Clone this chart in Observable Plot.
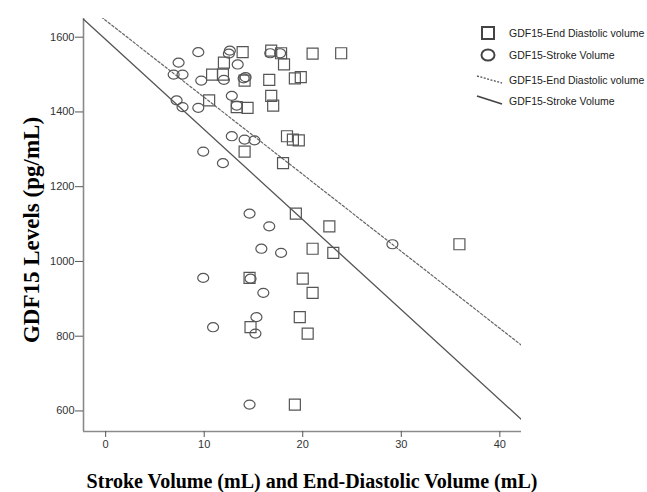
<!DOCTYPE html>
<html><head><meta charset="utf-8">
<script src="https://cdn.jsdelivr.net/npm/d3@7"></script>
<script src="https://cdn.jsdelivr.net/npm/@observablehq/plot@0.6"></script>
<style>
body{margin:0;background:#fff;}
#wrap{position:relative;width:647px;height:492px;overflow:hidden;}
#wrap svg{position:absolute;left:0;top:0;}
.title{position:absolute;font-family:"Liberation Serif",serif;font-weight:bold;font-size:20px;color:#000;white-space:nowrap;}
</style></head><body><div id="wrap"></div>
<script>
// GDF15 level (pg/mL) for each patient
const gdf15 = [1564,1560,1557,1557,1556,1532,1527,1500,1500,1493,1490,1486,1484,1443,1431,1417,1413,1411,1335,1326,1324,1294,1263,1128,1094,1046,1034,1023,956,954,916,851,824,807,617];
// Stroke volume (mL) – circles
const strokeVolume = [12.6,9.4,16.7,17.7,12.5,7.4,13.4,6.9,7.8,14.2,14.0,12.0,9.7,12.8,7.2,13.3,7.8,9.4,12.8,14.1,15.1,9.9,11.9,14.6,16.6,29.1,15.8,17.8,9.9,14.7,16.0,15.3,10.9,15.2,14.6];
// End-diastolic volume (mL) – squares
const endDiastolicVolume = [16.8,13.9,17.8,23.9,21.0,12.0,18.1,10.8,11.9,19.8,19.2,16.6,14.1,16.8,10.5,17.0,13.3,14.4,18.4,19.0,19.6,14.1,18.0,19.3,22.7,35.9,21.0,23.1,14.6,20.0,21.0,19.7,14.7,20.5,19.2];
// Fit lines
const fitSV = {intercept: 1594, slope: -24.1};
const fitEDV = {intercept: 1645, slope: -20.6};
const xTicks = [0,10,20,30,40];
const yTicks = [600,800,1000,1200,1400,1600];
const xDomain = [-2.25, 42.2];
const yDomain = [545, 1650];
const legendLabels = ["GDF15-End Diastolic volume","GDF15-Stroke Volume","GDF15-End Diastolic volume","GDF15-Stroke Volume"];
const xTitle = "Stroke Volume (mL) and End-Diastolic Volume (mL)";
const yTitle = "GDF15 Levels (pg/mL)";

const rows = gdf15.map((g,i)=>({g, sv: strokeVolume[i], edv: endDiastolicVolume[i]}));
const fitLine = f => xDomain.map(x => ({x, y: f.intercept + f.slope*x}));

const squareSym = {draw(ctx, size){ const r=Math.sqrt(size/Math.PI); ctx.moveTo(-r,-r); ctx.lineTo(r,-r); ctx.lineTo(r,r); ctx.lineTo(-r,r); ctx.closePath(); }};
const ellipseSym = {draw(ctx, size){ const r=Math.sqrt(size/Math.PI); const rx=r, ry=r*0.82, k=0.5523;
  ctx.moveTo(rx,0); ctx.bezierCurveTo(rx,ry*k,rx*k,ry,0,ry); ctx.bezierCurveTo(-rx*k,ry,-rx,ry*k,-rx,0);
  ctx.bezierCurveTo(-rx,-ry*k,-rx*k,-ry,0,-ry); ctx.bezierCurveTo(rx*k,-ry,rx,-ry*k,rx,0); ctx.closePath(); }};

const chart = Plot.plot({
  width: 647, height: 492,
  marginLeft: 83, marginRight: 126, marginTop: 18, marginBottom: 61,
  x: {domain: xDomain},
  y: {domain: yDomain},
  style: {fontFamily: "Liberation Sans, sans-serif", fontSize: "11px", color: "#333", background: "transparent"},
  marks: [
    Plot.ruleX([xDomain[0]], {stroke: "#8a8a8a", strokeWidth: 1.6}),
    Plot.ruleY([yDomain[0]], {stroke: "#8a8a8a", strokeWidth: 1.6}),
    Plot.axisX({ticks: xTicks, tickFormat: d => String(d), tickSize: 6, tickPadding: 3, label: null, stroke: "#555"}),
    Plot.axisY({ticks: yTicks, tickFormat: d => String(d), tickSize: 8, tickPadding: 1, label: null, stroke: "#555"}),
    Plot.line(fitLine(fitEDV), {x: "x", y: "y", stroke: "#666", strokeWidth: 1.2, strokeDasharray: "2.5,2", clip: true}),
    Plot.line(fitLine(fitSV), {x: "x", y: "y", stroke: "#555", strokeWidth: 1.3, clip: true}),
    Plot.dot(rows, {x: "sv", y: "g", symbol: ellipseSym, r: 5.5, stroke: "#555", strokeWidth: 1.2, fill: "none"}),
    Plot.dot(rows, {x: "edv", y: "g", symbol: squareSym, r: 5.5, stroke: "#555", strokeWidth: 1.2, fill: "none"})
  ]
});
const wrap = document.getElementById("wrap");
wrap.appendChild(chart);

// Legend
const leg = d3.select(wrap).append("svg").attr("width",647).attr("height",492).style("pointer-events","none");
const lx = 488, ly = [33, 55, 80, 101];
leg.append("rect").attr("x",lx-6).attr("y",ly[0]-6).attr("width",12).attr("height",12).attr("fill","none").attr("stroke","#444").attr("stroke-width",2);
leg.append("ellipse").attr("cx",lx).attr("cy",ly[1]).attr("rx",6.5).attr("ry",5.5).attr("fill","none").attr("stroke","#444").attr("stroke-width",2);
leg.append("line").attr("x1",lx-11).attr("y1",ly[2]-4).attr("x2",lx+14).attr("y2",ly[2]+3).attr("stroke","#555").attr("stroke-width",1.3).attr("stroke-dasharray","2,1.5");
leg.append("line").attr("x1",lx-11).attr("y1",ly[3]-5).attr("x2",lx+14).attr("y2",ly[3]+3).attr("stroke","#444").attr("stroke-width",1.8);
legendLabels.forEach((t,i)=>{
  leg.append("text").attr("x",509).attr("y",ly[i]).attr("dy","0.35em").attr("font-family","Liberation Sans, sans-serif").attr("font-size","10.5px").attr("fill","#222").text(t);
});

// Axis titles
const xt = document.createElement("div");
xt.className = "title"; xt.textContent = xTitle;
xt.style.left = "312px"; xt.style.top = "470px"; xt.style.transform = "translateX(-50%)";
wrap.appendChild(xt);
const yt = document.createElement("div");
yt.className = "title"; yt.textContent = yTitle;
yt.style.fontSize = "23px";
yt.style.left = "32px"; yt.style.top = "230px"; yt.style.transform = "translate(-50%,-50%) rotate(-90deg)";
wrap.appendChild(yt);
</script>
</body></html>
